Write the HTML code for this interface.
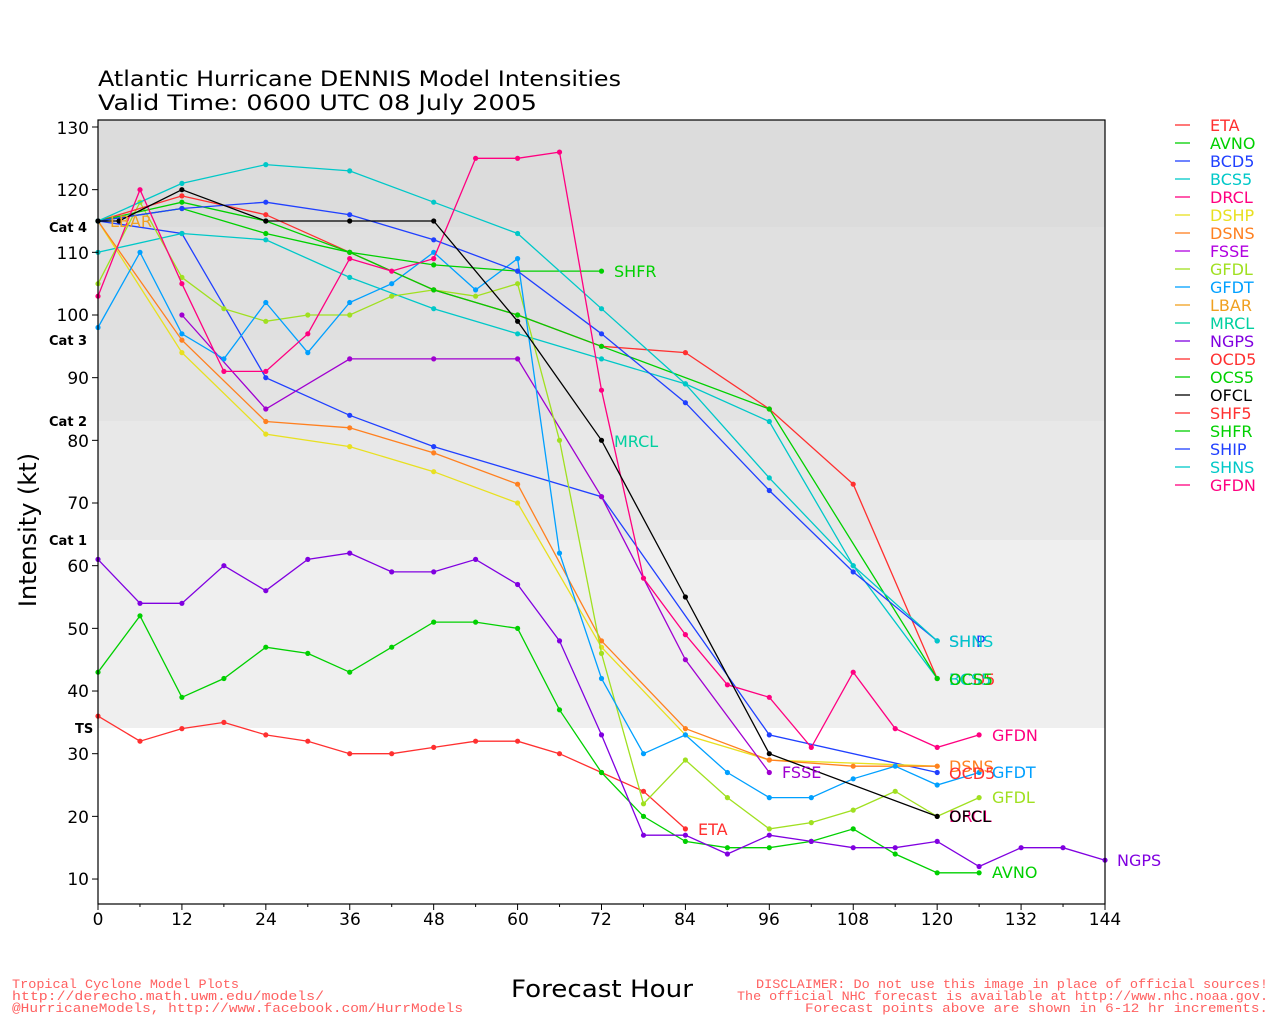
<!DOCTYPE html>
<html><head><meta charset="utf-8"><style>body{margin:0;background:#fff}svg{display:block;font-family:"DejaVu Sans","Liberation Sans",sans-serif}</style></head>
<body>
<svg id="s" width="1280" height="1024" xmlns="http://www.w3.org/2000/svg">
<rect x="98" y="120" width="1007" height="107" fill="#dcdcdc"/>
<rect x="98" y="227" width="1007" height="113" fill="#e0e0e0"/>
<rect x="98" y="340" width="1007" height="81" fill="#e3e3e3"/>
<rect x="98" y="421" width="1007" height="119" fill="#e8e8e8"/>
<rect x="98" y="540" width="1007" height="188" fill="#efefef"/>
<g id="lines"></g>
<rect x="98" y="120" width="1007" height="784" fill="none" stroke="#000" stroke-width="1.2"/>
<g id="ticks" stroke="#000"></g>
<g font-size="17" text-anchor="end" fill="#000">
<text x="89" y="134">130</text><text x="89" y="196">120</text><text x="89" y="259">110</text><text x="89" y="321">100</text><text x="89" y="384">90</text><text x="89" y="447">80</text><text x="89" y="509">70</text><text x="89" y="572">60</text><text x="89" y="635">50</text><text x="89" y="697">40</text><text x="89" y="760">30</text><text x="89" y="823">20</text><text x="89" y="885">10</text>
</g>
<g font-size="17" text-anchor="middle">
<text x="98" y="925">0</text><text x="182" y="925">12</text><text x="266" y="925">24</text><text x="350" y="925">36</text><text x="434" y="925">48</text><text x="518" y="925">60</text><text x="601" y="925">72</text><text x="685" y="925">84</text><text x="769" y="925">96</text><text x="853" y="925">108</text><text x="937" y="925">120</text><text x="1021" y="925">132</text><text x="1105" y="925">144</text>
</g>
<g font-size="13" font-weight="bold"><text x="49" y="232">Cat 4</text><text x="49" y="345">Cat 3</text><text x="49" y="426">Cat 2</text><text x="49" y="545">Cat 1</text><text x="75" y="733">TS</text></g>
<text x="98" y="86" font-size="21" textLength="523" lengthAdjust="spacingAndGlyphs">Atlantic Hurricane DENNIS Model Intensities</text>
<text x="98" y="110" font-size="21" textLength="439" lengthAdjust="spacingAndGlyphs">Valid Time: 0600 UTC 08 July 2005</text>
<text x="36" y="530" font-size="24" transform="rotate(-90 36 530)" text-anchor="middle">Intensity (kt)</text>
<text x="511" y="997" font-size="24" textLength="182" lengthAdjust="spacingAndGlyphs">Forecast Hour</text>
<g font-family="Liberation Mono,monospace" font-size="13" fill="#ff6060" lengthAdjust="spacingAndGlyphs">
<text x="12" y="988" textLength="227" lengthAdjust="spacingAndGlyphs">Tropical Cyclone Model Plots</text><text x="12" y="1000" textLength="312" lengthAdjust="spacingAndGlyphs">http://derecho.math.uwm.edu/models/</text><text x="12" y="1012" textLength="451" lengthAdjust="spacingAndGlyphs">@HurricaneModels, http://www.facebook.com/HurrModels</text>
<text x="756" y="988" textLength="512" lengthAdjust="spacingAndGlyphs">DISCLAIMER: Do not use this image in place of official sources!</text><text x="737" y="1000" textLength="531" lengthAdjust="spacingAndGlyphs">The official NHC forecast is available at http://www.nhc.noaa.gov.</text><text x="805" y="1012" textLength="463" lengthAdjust="spacingAndGlyphs">Forecast points above are shown in 6-12 hr increments.</text>
</g>
<g font-size="16">
<text x="110" y="227" fill="#f0a020">LBAR</text>
<text x="614" y="277" fill="#00d000">SHFR</text>
<text x="614" y="447" fill="#00d0a0">MRCL</text>
<text x="949" y="647" fill="#2040ff">SHIP</text><text x="949" y="647" fill="#00c8c8">SHNS</text>
<text x="949" y="685" fill="#ff3030">OCD5</text><text x="949" y="685" fill="#00c8c8">BCS5</text><text x="949" y="685" fill="#00d000">OCS5</text>
<text x="992" y="741" fill="#ff0080">GFDN</text>
<text x="949" y="772" fill="#ff8020">DSNS</text><text x="949" y="779" fill="#ff3030">OCD5</text>
<text x="992" y="778" fill="#00a0ff">GFDT</text>
<text x="782" y="778" fill="#a000d0">FSSE</text>
<text x="992" y="803" fill="#a0e020">GFDL</text>
<text x="949" y="822" fill="#ff0080">DRCL</text><text x="949" y="822" fill="#000">OFCL</text>
<text x="698" y="835" fill="#ff3030">ETA</text>
<text x="992" y="878" fill="#00d000">AVNO</text>
<text x="1117" y="866" fill="#8000e0">NGPS</text>
</g>
<g font-size="16">
<text x="1210" y="131" fill="#ff3030">ETA</text><text x="1210" y="149" fill="#00d000">AVNO</text><text x="1210" y="167" fill="#2040ff">BCD5</text><text x="1210" y="185" fill="#00c8c8">BCS5</text><text x="1210" y="203" fill="#ff0080">DRCL</text><text x="1210" y="221" fill="#e8e020">DSHP</text><text x="1210" y="239" fill="#ff8020">DSNS</text><text x="1210" y="257" fill="#b000e0">FSSE</text><text x="1210" y="275" fill="#a0e020">GFDL</text><text x="1210" y="293" fill="#00a0ff">GFDT</text><text x="1210" y="311" fill="#f0a020">LBAR</text><text x="1210" y="329" fill="#00d0a0">MRCL</text><text x="1210" y="347" fill="#8000e0">NGPS</text><text x="1210" y="365" fill="#ff3030">OCD5</text><text x="1210" y="383" fill="#00d000">OCS5</text><text x="1210" y="401" fill="#000">OFCL</text><text x="1210" y="419" fill="#ff3030">SHF5</text><text x="1210" y="437" fill="#00d000">SHFR</text><text x="1210" y="455" fill="#2040ff">SHIP</text><text x="1210" y="473" fill="#00c8c8">SHNS</text><text x="1210" y="491" fill="#ff0080">GFDN</text>
</g>
<g id="leg"></g>
</svg>
<script>
var X=h=>98+h*6.993,Y=k=>941.7-6.267*k;
var S=[
["#ff3030","0:36,6:32,12:34,18:35,24:33,30:32,36:30,42:30,48:31,54:32,60:32,66:30,72:27,78:24,84:18"],
["#00d000","0:43,6:52,12:39,18:42,24:47,30:46,36:43,42:47,48:51,54:51,60:50,66:37,72:27,78:20,84:16,90:15,96:15,102:16,108:18,114:14,120:11,126:11"],
["#2040ff","0:115,12:113,24:90,36:84,48:79,72:71,96:33,120:27"],
["#00c8c8","0:110,12:113,24:112,36:106,48:101,60:97,72:93,84:89,96:83,108:60,120:42"],
["#e8e020","0:115,12:94,24:81,36:79,48:75,60:70,72:47,84:33,96:29,120:28"],
["#ff8020","0:115,12:96,24:83,36:82,48:78,60:73,72:48,84:34,96:29,108:28,120:28"],
["#a000d0","12:100,24:85,36:93,48:93,60:93,72:71,84:45,96:27"],
["#a0e020","0:105,6:118,12:106,18:101,24:99,30:100,36:100,42:103,48:104,54:103,60:105,66:80,72:46,78:22,84:29,90:23,96:18,102:19,108:21,114:24,120:20,126:23"],
["#00a0ff","0:98,6:110,12:97,18:93,24:102,30:94,36:102,42:105,48:110,54:104,60:109,66:62,72:42,78:30,84:33,90:27,96:23,102:23,108:26,114:28,120:25,126:27"],
["#8000e0","0:61,6:54,12:54,18:60,24:56,30:61,36:62,42:59,48:59,54:61,60:57,66:48,72:33,78:17,84:17,90:14,96:17,102:16,108:15,114:15,120:16,126:12,132:15,138:15,144:13"],
["#ff3030","0:115,12:119,24:116,36:110,48:104,60:100,72:95,84:94,96:85,108:73,120:42"],
["#00d000","0:115,12:118,24:115,36:110,48:104,60:100,72:95,96:85,120:42"],
["#00d000","0:115,12:117,24:113,36:110,48:108,60:107,72:107"],
["#2040ff","0:115,12:117,24:118,36:116,48:112,60:107,72:97,84:86,96:72,108:59,120:48"],
["#00c8c8","0:115,12:121,24:124,36:123,48:118,60:113,72:101,84:89,96:74,108:60,120:48"],
["#ff0080","0:103,6:120,12:105,18:91,24:91,30:97,36:109,42:107,48:109,54:125,60:125,66:126,72:88,78:58,84:49,90:41,96:39,102:31,108:43,114:34,120:31,126:33"],
["#000000","0:115,3:115,12:120,24:115,36:115,48:115,60:99,72:80,84:55,96:30,120:20"]];
var g=document.getElementById("lines"),o="";
S.forEach(s=>{var p=s[1].split(",").map(a=>a.split(":").map(Number));
o+='<polyline fill="none" stroke="'+s[0]+'" stroke-width="1.3" points="'+p.map(q=>X(q[0]).toFixed(1)+","+Y(q[1]).toFixed(1)).join(" ")+'"/>';
p.forEach(q=>o+='<circle cx="'+X(q[0]).toFixed(1)+'" cy="'+Y(q[1]).toFixed(1)+'" r="2.6" fill="'+s[0]+'"/>');});
g.innerHTML=o;
var t="";for(var k=10;k<=130;k+=10)t+='<line x1="92" x2="98" y1="'+Y(k)+'" y2="'+Y(k)+'"/>';
for(var h=0;h<=144;h+=12)t+='<line y1="904" y2="910" x1="'+X(h)+'" x2="'+X(h)+'"/>';
for(var h=6;h<144;h+=12)t+='<line y1="904" y2="907" x1="'+X(h)+'" x2="'+X(h)+'"/>';
document.getElementById("ticks").innerHTML=t;
var c=["#ff3030","#00d000","#2040ff","#00c8c8","#ff0080","#e8e020","#ff8020","#b000e0","#a0e020","#00a0ff","#f0a020","#00d0a0","#8000e0","#ff3030","#00d000","#000","#ff3030","#00d000","#2040ff","#00c8c8","#ff0080"],l="";
c.forEach((cc,i)=>l+='<line x1="1175" x2="1190" y1="'+(125+i*18)+'" y2="'+(125+i*18)+'" stroke="'+cc+'" stroke-width="1.3"/>');
document.getElementById("leg").innerHTML=l;
</script>
</body></html>
